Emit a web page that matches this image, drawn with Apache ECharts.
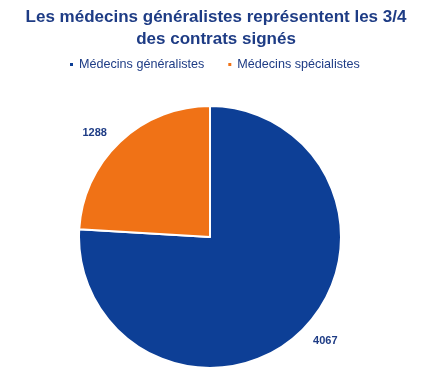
<!DOCTYPE html>
<html><head><meta charset="utf-8">
<script src="https://cdn.jsdelivr.net/npm/echarts@6/dist/echarts.min.js"></script>
<style>html,body{margin:0;padding:0;background:#fff}#c{width:441px;height:388px}</style>
</head><body><div id="c"></div>
<script>
const titleText = 'Les médecins généralistes représentent les 3/4\ndes contrats signés';
const categories = ['Médecins généralistes', 'Médecins spécialistes'];
const values = [4067, 1288];
const colors = ['#0D3F96', '#F07216'];

const chart = echarts.init(document.getElementById('c'));
chart.setOption({
  animation: false,
  title: {
    text: titleText, left: 211, top: 1, textAlign: 'center',
    textStyle: { fontFamily: 'Liberation Sans, Arial', fontSize: 17, fontWeight: 'bold', color: '#1E3C85', lineHeight: 22 }
  },
  legend: {
    top: 53, left: 63, itemWidth: 5, itemHeight: 5, itemGap: 22, icon: 'rect',
    textStyle: { fontFamily: 'Liberation Sans, Arial', fontSize: 12.6, color: '#1E3C85' },
    data: categories
  },
  series: [{
    type: 'pie', center: [210, 237], radius: 131, startAngle: 90, clockwise: true,
    itemStyle: { borderColor: '#fff', borderWidth: 2 },
    label: { show: true, position: 'outside', formatter: '{c}', fontFamily: 'Liberation Sans, Arial', fontSize: 11, fontWeight: 'bold', color: '#1E3C85' },
    labelLine: { show: false, length: 12, length2: 0 },
    data: categories.map((n, i) => ({ name: n, value: values[i], itemStyle: { color: colors[i] } }))
  }]
});
</script></body></html>
